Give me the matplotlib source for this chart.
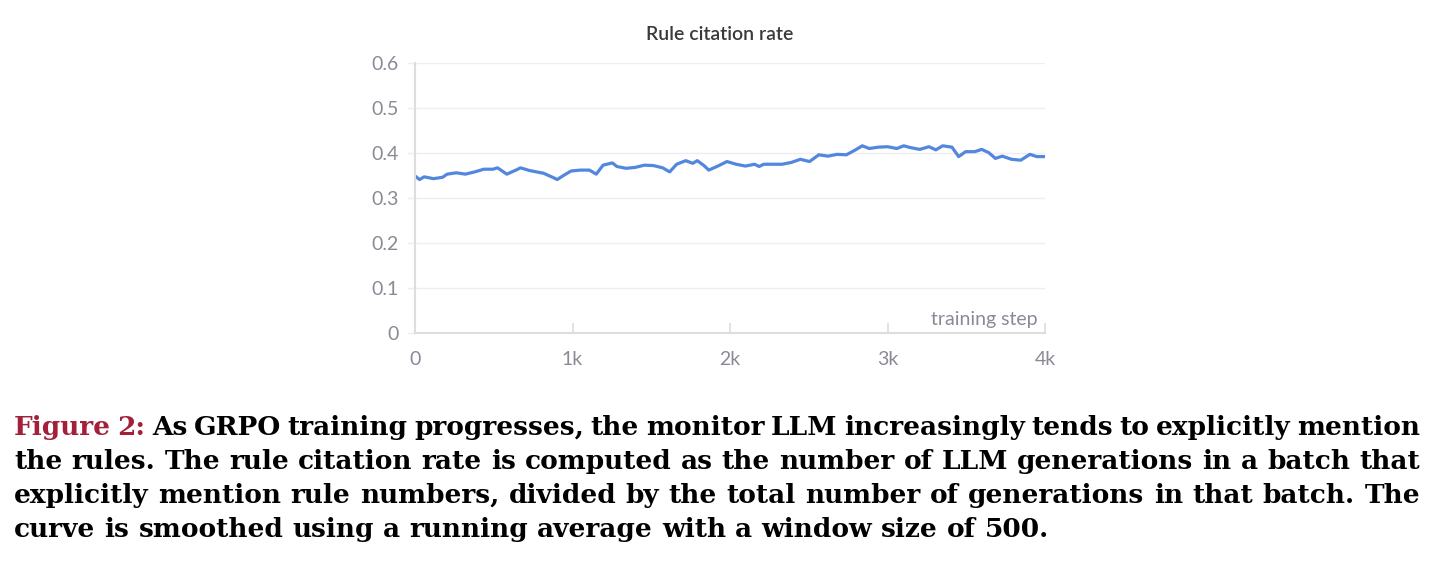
import numpy as np
import matplotlib.pyplot as plt

# training step vs. smoothed rule citation rate
steps = [0, 29, 58, 117, 175, 204, 262, 320, 379, 437, 495, 524, 583, 641, 670,
         728, 816, 874, 903, 947, 991, 1049, 1107, 1151, 1194, 1253, 1282, 1340,
         1398, 1457, 1515, 1573, 1617, 1661, 1719, 1763, 1792, 1835, 1865, 1923,
         1981, 2039, 2098, 2156, 2185, 2214, 2272, 2331, 2389, 2447, 2505, 2564,
         2622, 2680, 2739, 2797, 2840, 2884, 2942, 3001, 3059, 3103, 3146, 3205,
         3263, 3307, 3350, 3409, 3452, 3496, 3554, 3598, 3642, 3685, 3729, 3787,
         3846, 3904, 3948, 4000]
rate = [0.349, 0.341, 0.347, 0.343, 0.346, 0.353, 0.356, 0.353, 0.358, 0.364,
        0.364, 0.367, 0.353, 0.362, 0.367, 0.361, 0.355, 0.346, 0.341, 0.351,
        0.360, 0.362, 0.362, 0.353, 0.373, 0.378, 0.370, 0.366, 0.368, 0.373,
        0.372, 0.367, 0.358, 0.375, 0.383, 0.377, 0.383, 0.372, 0.362, 0.371,
        0.381, 0.375, 0.371, 0.375, 0.370, 0.375, 0.375, 0.375, 0.379, 0.386,
        0.381, 0.396, 0.393, 0.397, 0.396, 0.407, 0.416, 0.410, 0.413, 0.414,
        0.410, 0.416, 0.412, 0.408, 0.414, 0.407, 0.416, 0.413, 0.392, 0.403,
        0.403, 0.408, 0.401, 0.388, 0.393, 0.386, 0.384, 0.397, 0.392, 0.392]

xticks = [0, 1000, 2000, 3000, 4000]
xtick_labels = ['0', '1k', '2k', '3k', '4k']
yticks = [0, 0.1, 0.2, 0.3, 0.4, 0.5, 0.6]
ytick_labels = ['0', '0.1', '0.2', '0.3', '0.4', '0.5', '0.6']

caption_lines = [
    "Figure 2: As GRPO training progresses, the monitor LLM increasingly tends to explicitly mention",
    "the rules. The rule citation rate is computed as the number of LLM generations in a batch that",
    "explicitly mention rule numbers, divided by the total number of generations in that batch. The",
    "curve is smoothed using a running average with a window size of 500.",
]

W, H = 1435, 567
fig = plt.figure(figsize=(W / 100, H / 100), dpi=100)
ax = fig.add_axes([415 / W, 1 - 333 / H, 630 / W, 270 / H])

ax.plot(steps, rate, color='#5387DD', lw=2.3, solid_joinstyle='round')
ax.set_xlim(0, 4000)
ax.set_ylim(0, 0.6)
ax.set_xticks(xticks)
ax.set_xticklabels(xtick_labels)
ax.set_yticks(yticks)
ax.set_yticklabels(ytick_labels)
ax.grid(axis='y', color='#eeeeee', lw=1)
ax.set_axisbelow(True)
for s in ['top', 'right']:
    ax.spines[s].set_visible(False)
for s in ['left', 'bottom']:
    ax.spines[s].set_color('#dddddd')
    ax.spines[s].set_linewidth(1.5)

tick_col = '#8a8a96'
ax.tick_params(axis='x', direction='in', length=7, width=1.2, color='#dddddd',
               labelcolor=tick_col, labelsize=14, pad=13)
ax.tick_params(axis='y', direction='out', length=6, width=1, color='#eeeeee',
               labelcolor=tick_col, labelsize=14, pad=6)
for lab in ax.get_xticklabels() + ax.get_yticklabels():
    lab.set_family('Lato')

ax.text(0.989, 0.05, 'training step', transform=ax.transAxes, ha='right',
        va='center', color=tick_col, fontsize=14, family='Lato')
fig.text(720 / W, 1 - 35 / H, 'Rule citation rate', ha='center', va='center',
         color='#3a3a3a', fontsize=14, family='Lato', fontweight='semibold')

# caption, justified like the paper
renderer = fig.canvas.get_renderer()
cap_font = dict(fontsize=19, family='DejaVu Serif', fontweight='bold')
left_px, right_px = 14, 1420
baselines = [435, 469, 503, 537]
for i, line in enumerate(caption_lines):
    words = line.split(' ')
    pieces = []
    for j, w in enumerate(words):
        col = '#A3203A' if (i == 0 and j < 2) else 'black'
        t = fig.text(0, 1 - baselines[i] / H, w, color=col, va='baseline',
                     ha='left', **cap_font)
        pieces.append(t)
    widths = [p.get_window_extent(renderer).width for p in pieces]
    if i < len(caption_lines) - 1:
        gap = (right_px - left_px - sum(widths)) / (len(words) - 1)
    else:
        sp = fig.text(0, 0, 'a b', **cap_font)
        sp2 = fig.text(0, 0, 'ab', **cap_font)
        gap = sp.get_window_extent(renderer).width - sp2.get_window_extent(renderer).width
        sp.remove()
        sp2.remove()
    x = left_px
    for p, w in zip(pieces, widths):
        p.set_x(x / W)
        x += w + gap

fig.savefig('out.png', dpi=100)
